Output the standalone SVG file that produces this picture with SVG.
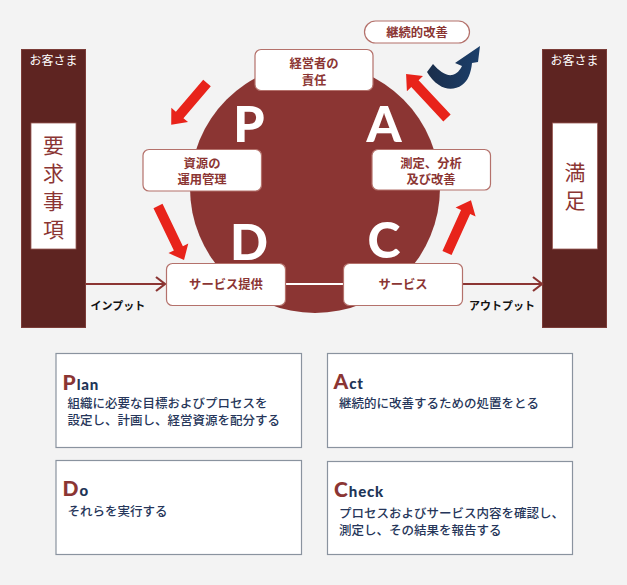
<svg xmlns="http://www.w3.org/2000/svg" width="627" height="585" viewBox="0 0 627 585">
<defs>
<style>
.lbl{font-family:"Noto Sans CJK JP",sans-serif;font-weight:bold;font-size:12.3px;fill:#8b3533;text-anchor:middle}
.box{fill:#fff;stroke:#b4716b;stroke-width:1.2}
.col{fill:#5e2421;stroke:#7b3c38;stroke-width:1}
.inner{fill:#fff;stroke:#9a5a55;stroke-width:0.8}
.cust{font-family:"Noto Sans CJK JP",sans-serif;font-size:12px;fill:#fff;text-anchor:middle}
.big{font-family:"Noto Sans CJK JP",sans-serif;font-size:21px;fill:#8b3533;text-anchor:middle}
.pdca{font-family:Lato,"Open Sans",sans-serif;font-weight:900;font-size:50px;fill:#fff;text-anchor:middle}
.io{font-family:"Noto Sans CJK JP",sans-serif;font-weight:bold;font-size:11px;fill:#111}
.red{fill:#e8231a}
.card{fill:#fff;stroke:#8a939f;stroke-width:1.2}
.cap{font-family:Lato,"Open Sans",sans-serif;font-weight:900;font-size:21px;fill:#8b3533}
.capr{font-family:Lato,"Open Sans",sans-serif;font-weight:900;font-size:15px;fill:#1e3557;letter-spacing:0.8px}
.body{font-family:"Noto Sans CJK JP",sans-serif;font-size:12.5px;fill:#26365a;font-weight:500}
.conn{stroke:#8b3533;stroke-width:2.2;fill:none}
</style>
<linearGradient id="blueg" x1="0" y1="0" x2="1" y2="0">
<stop offset="0" stop-color="#1a2d4a"/>
<stop offset="1" stop-color="#1b3f6b"/>
</linearGradient>
</defs>
<rect x="0" y="0" width="627" height="585" fill="#f3f3f3"/>

<g id="customer-left">
<rect class="col" x="21.5" y="49.5" width="64" height="278"/>
<text class="cust" x="53.5" y="65">お客さま</text>
<rect class="inner" x="31" y="123" width="45" height="126"/>
<text class="big" x="53.5" y="153">要</text>
<text class="big" x="53.5" y="181">求</text>
<text class="big" x="53.5" y="209">事</text>
<text class="big" x="53.5" y="236.5">項</text>
</g>

<g id="customer-right">
<rect class="col" x="542.5" y="49.5" width="64" height="278"/>
<text class="cust" x="574.5" y="65">お客さま</text>
<rect class="inner" x="552.5" y="123" width="45" height="126"/>
<text class="big" x="575" y="180">満</text>
<text class="big" x="575" y="208">足</text>
</g>

<g id="cycle">
<circle cx="315" cy="188" r="125" fill="#8b3533"/>
<text class="pdca" x="249" y="142">P</text>
<text class="pdca" x="384" y="142">A</text>
<text class="pdca" x="249" y="260">D</text>
<text class="pdca" x="384" y="258">C</text>
</g>

<g id="connectors">
<line x1="286" y1="284" x2="343" y2="284" stroke="#fff" stroke-width="2"/>
<line class="conn" x1="86" y1="284" x2="164" y2="284"/>
<polyline class="conn" points="156,277 165,284 156,291"/>
<line class="conn" x1="462" y1="284" x2="541" y2="284"/>
<polyline class="conn" points="533,277 542,284 533,291"/>
<g class="red">
<path transform="translate(207,83) rotate(130.6)" d="M0,-5 H42 V-11 L55,0 L42,11 V5 H0 Z"/>
<path transform="translate(158,206) rotate(64.3)" d="M0,-5 H47 V-11 L60,0 L47,11 V5 H0 Z"/>
<path transform="translate(447,253) rotate(-65.6)" d="M0,-5 H45 V-11 L58,0 L45,11 V5 H0 Z"/>
<path transform="translate(447,118) rotate(-133)" d="M0,-5 H47 V-11 L60,0 L47,11 V5 H0 Z"/>
</g>
<path fill="url(#blueg)" d="M427,72 L433,64 C439,71 446,76 452,75 C457,74 460,70 462,66 L455,63 L480,46 L478,62 L472,63 C471,73 468,81 462,85 C455,90 446,90 439,85 C434,82 430,77 427,72 Z"/>
<text class="io" x="90.5" y="310">インプット</text>
<text class="io" x="469" y="310">アウトプット</text>
</g>

<g id="node-responsibility">
<rect class="box" x="255" y="49.5" width="118" height="41" rx="6"/>
<text class="lbl" x="314" y="68">経営者の</text>
<text class="lbl" x="314" y="84.5">責任</text>
</g>
<g id="node-kaizen">
<rect class="box" x="364.5" y="21" width="105" height="22" rx="11"/>
<text class="lbl" x="417" y="37">継続的改善</text>
</g>
<g id="node-resource">
<rect class="box" x="143" y="149.5" width="118.5" height="41.5" rx="6"/>
<text class="lbl" x="202" y="167.5">資源の</text>
<text class="lbl" x="202" y="183.5">運用管理</text>
</g>
<g id="node-measure">
<rect class="box" x="372" y="149.5" width="118.5" height="40.5" rx="6"/>
<text class="lbl" x="431" y="167.5">測定、分析</text>
<text class="lbl" x="431" y="183.5">及び改善</text>
</g>
<g id="node-provide">
<rect class="box" x="166.5" y="263.5" width="119" height="42" rx="6"/>
<text class="lbl" x="226" y="289">サービス提供</text>
</g>
<g id="node-service">
<rect class="box" x="343.5" y="263.5" width="119" height="42" rx="6"/>
<text class="lbl" x="403" y="289">サービス</text>
</g>

<g id="card-plan">
<rect class="card" x="56" y="353.5" width="245.5" height="94"/>
<text x="62.5" y="390"><tspan class="cap">P</tspan><tspan class="capr" dx="1">lan</tspan></text>
<text class="body" x="67.5" y="407.5">組織に必要な目標およびプロセスを</text>
<text class="body" x="67.5" y="425">設定し、計画し、経営資源を配分する</text>
</g>
<g id="card-do">
<rect class="card" x="56" y="460.5" width="245.5" height="94"/>
<text x="62.5" y="495.5"><tspan class="cap">D</tspan><tspan class="capr" dx="1">o</tspan></text>
<text class="body" x="67.5" y="516">それらを実行する</text>
</g>
<g id="card-act">
<rect class="card" x="327.5" y="353.5" width="245" height="94"/>
<text x="333.5" y="388.5"><tspan class="cap">A</tspan><tspan class="capr" dx="1">ct</tspan></text>
<text class="body" x="339" y="408">継続的に改善するための処置をとる</text>
</g>
<g id="card-check">
<rect class="card" x="327.5" y="461.5" width="245" height="93"/>
<text x="334" y="497"><tspan class="cap">C</tspan><tspan class="capr" dx="1">heck</tspan></text>
<text class="body" x="339" y="517.5">プロセスおよびサービス内容を確認し、</text>
<text class="body" x="339" y="534.5">測定し、その結果を報告する</text>
</g>
</svg>
